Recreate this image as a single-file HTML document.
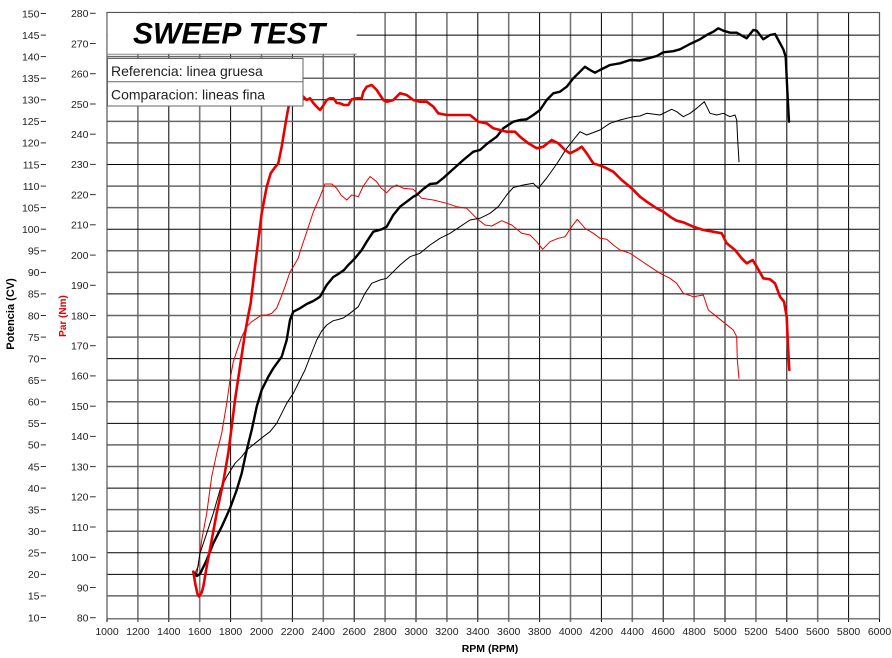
<!DOCTYPE html>
<html><head><meta charset="utf-8"><style>
html,body{margin:0;padding:0;background:#fff;}
svg{display:block;}
text{font-family:"Liberation Sans",Arial,sans-serif;}
</style></head><body>
<svg width="892" height="658" viewBox="0 0 892 658" xmlns="http://www.w3.org/2000/svg">
<rect width="892" height="658" fill="#fff"/>
<!-- vertical grid -->
<g stroke="#000" stroke-width="1">
<line x1="168.8" y1="12" x2="168.8" y2="622"/><line x1="230.6" y1="12" x2="230.6" y2="622"/><line x1="292.4" y1="12" x2="292.4" y2="622"/><line x1="354.2" y1="12" x2="354.2" y2="622"/><line x1="416" y1="12" x2="416" y2="622"/><line x1="477.8" y1="12" x2="477.8" y2="622"/><line x1="539.6" y1="12" x2="539.6" y2="622"/><line x1="601.4" y1="12" x2="601.4" y2="622"/><line x1="663.2" y1="12" x2="663.2" y2="622"/><line x1="725" y1="12" x2="725" y2="622"/><line x1="786.8" y1="12" x2="786.8" y2="622"/><line x1="848.6" y1="12" x2="848.6" y2="622"/>
<line x1="107" y1="619" x2="107" y2="622"/>
</g>
<g stroke="#777" stroke-width="1.6">
<line x1="137.9" y1="12" x2="137.9" y2="622"/><line x1="199.7" y1="12" x2="199.7" y2="622"/><line x1="261.5" y1="12" x2="261.5" y2="622"/><line x1="323.3" y1="12" x2="323.3" y2="622"/><line x1="385.1" y1="12" x2="385.1" y2="622"/><line x1="446.9" y1="12" x2="446.9" y2="622"/><line x1="508.7" y1="12" x2="508.7" y2="622"/><line x1="570.5" y1="12" x2="570.5" y2="622"/><line x1="632.3" y1="12" x2="632.3" y2="622"/><line x1="694.1" y1="12" x2="694.1" y2="622"/><line x1="755.9" y1="12" x2="755.9" y2="622"/><line x1="817.7" y1="12" x2="817.7" y2="622"/>
</g>
<!-- horizontal grid -->
<g stroke="#000" stroke-width="1">
<line x1="107" y1="35.07" x2="879.5" y2="35.07"/><line x1="107" y1="99.79" x2="879.5" y2="99.79"/><line x1="107" y1="164.5" x2="879.5" y2="164.5"/><line x1="107" y1="229.21" x2="879.5" y2="229.21"/><line x1="107" y1="293.93" x2="879.5" y2="293.93"/><line x1="107" y1="358.64" x2="879.5" y2="358.64"/><line x1="107" y1="423.36" x2="879.5" y2="423.36"/><line x1="107" y1="488.07" x2="879.5" y2="488.07"/><line x1="107" y1="552.79" x2="879.5" y2="552.79"/><line x1="107" y1="574.36" x2="879.5" y2="574.36"/>
</g>
<g stroke="#666" stroke-width="1.5">
<line x1="107" y1="56.64" x2="879.5" y2="56.64"/><line x1="107" y1="78.21" x2="879.5" y2="78.21"/><line x1="107" y1="121.36" x2="879.5" y2="121.36"/><line x1="107" y1="142.93" x2="879.5" y2="142.93"/><line x1="107" y1="186.07" x2="879.5" y2="186.07"/><line x1="107" y1="207.64" x2="879.5" y2="207.64"/><line x1="107" y1="250.79" x2="879.5" y2="250.79"/><line x1="107" y1="272.36" x2="879.5" y2="272.36"/><line x1="107" y1="315.5" x2="879.5" y2="315.5"/><line x1="107" y1="337.07" x2="879.5" y2="337.07"/><line x1="107" y1="380.21" x2="879.5" y2="380.21"/><line x1="107" y1="401.79" x2="879.5" y2="401.79"/><line x1="107" y1="444.93" x2="879.5" y2="444.93"/><line x1="107" y1="466.5" x2="879.5" y2="466.5"/><line x1="107" y1="509.64" x2="879.5" y2="509.64"/><line x1="107" y1="531.21" x2="879.5" y2="531.21"/><line x1="107" y1="595.93" x2="879.5" y2="595.93"/>
</g>
<!-- border -->
<rect x="107" y="12.5" width="772.5" height="606.3" fill="none" stroke="#555" stroke-width="1.2"/>
<line x1="879.5" y1="619" x2="879.5" y2="622" stroke="#000"/>

<!-- curves -->
<g fill="none" stroke-linejoin="round" stroke-linecap="round">
<polyline stroke="#e60000" stroke-width="1" points="195,573 198.3,566 201.7,540 206.7,513.3 211.7,476.7 216.7,453.3 221.7,433.3 226.7,403.3 230,380 233.3,361.7 238.3,346.7 241.7,336.7 246.7,326.7 251.7,321.7 256.7,318.3 261.7,315 266.7,315 271.7,313.3 276.7,308 280,300 285,286.7 290,272 293.3,266.7 298.3,258 300,252 306.7,232 313.3,212 320,196.7 325,184 331.7,184 336.7,188.3 341,195 346.7,200 351.7,195 356,196 358.3,196.7 363.3,186 370,176.5 376.7,181.7 381,188 386.7,192.7 391,188 396.7,185 403.3,188.3 413.3,189.3 421.7,198.3 433.3,200 446.7,203.3 456.7,206.7 466.7,208.3 476.7,218.3 485,225 491.7,226 501.7,220.7 511.7,225 521.7,233.3 530,235 536.7,241.7 542.7,249.3 550,241.7 558.3,238.3 565,236.7 571.7,226.7 577.3,219.3 585,228.3 593.3,233.3 600,238.3 606.7,239.3 613.3,245 620,250 630,253.3 640,260 650,266.7 660,273.3 670,278.3 676.7,283.3 683.3,293.3 693.3,296.7 703.3,295 708.3,310 716.7,316.7 725,323.3 733.3,330 736.7,336.7 737.3,360 739,378.3"/>
<polyline stroke="#000" stroke-width="1" points="193.3,571.7 196.7,574 200,553.3 206.7,533.3 213.3,513.3 220,490 226.7,476.7 235,463.3 241.7,456.7 246.7,450 255,443.3 263.3,436.7 270,431.7 276.7,423.3 281.7,413.3 286.7,403.3 293.3,393.3 300,380 305,370 310,357 316.7,340 321.7,331 326.7,325 333.3,320.7 338.3,319.5 343.3,318 350,313.3 358.3,306.7 365,293.3 371.7,283.3 380,280 386.7,278.3 393.3,271.7 400,265 410,256.7 420,253.3 430,245 440,238.3 450,233.3 460,226.7 470,220 480,218.3 490,213.3 498.3,206.7 506.7,195 513.3,187.5 523.3,185 533.3,183.3 538.3,188.3 546.7,178 556.7,164 566.7,148.3 573.3,140 580,131.7 586.7,135 600,130 610,123.3 620,120 633.3,116.7 640,116 646.7,113.3 660,115 671.7,109.3 676.7,111.7 683.3,116.7 690,113.3 696.7,108.3 704.3,101.7 710,113.3 716.7,115 723.3,113.3 730,116.7 735,115 736.7,120 737.7,140 739,161.7"/>
<polyline stroke="#000" stroke-width="2.4" points="193.3,571.7 196.7,576 200,574 206.7,560 213.3,543.3 221.7,526.7 230,508.3 236.7,490 241.7,473.3 246.7,450 251.7,430 256.7,406.7 261.7,390 268.3,376.7 273.3,368.3 281.7,356.7 286.7,340 290,320 293.3,311.7 300,308.3 306.7,304 313.3,301 320,296.7 326.7,285 333.3,277 338.3,274 344,270 348.3,265 355,258.3 361.7,250 366.7,241.7 373.3,231.7 381.7,229.3 386.7,226.7 393.3,215 400,206.7 406.7,201.7 413.3,196.7 416.7,195 423.3,189 430,184 436.7,183.3 443.3,178 453.3,169 463.3,160 473.3,151.7 480,150 486.7,144 496.7,136.7 503.3,128.3 513.3,121.7 520,120 526.7,119.3 533.3,115 540,110 546.7,100 553.3,93.3 560,91.7 566.7,86.7 573.3,78.3 580,71.7 585,66.7 590,70 595,72.7 600,70 610,65 620,63.3 630,60 640,60.5 648.3,58.3 656.7,56 663.3,52.3 673.3,51.2 680,49.3 690,44 700,39.3 706.7,35 713.3,31.7 718.3,28.3 723.3,30.7 730,32.7 736.7,32.7 746.7,38.3 753.3,30 756.7,30.7 763.3,39.3 770,35 775,34 778.3,40 783.3,49.3 785.7,56.7 787.3,90 789,121.7"/>
<polyline stroke="#e60000" stroke-width="2.6" points="193.3,571.7 195.5,585 197.5,594 199,596.5 201.5,593 203.3,586.7 206.7,566.7 211.7,540 216.7,513 223.3,481.7 228.3,453 231.7,426.7 235,400 240,366.7 245,333.3 248.3,315 250.7,303 255,266.7 261.7,213.3 266.7,186.7 270.7,173.3 275,167.3 278.3,163.3 281.7,146.7 285,126.7 287.3,113.3 290,100 293,96 300,96 303.3,96.7 306.7,100 310,98.3 313.3,103 316,106 320,110 323,106 326.7,100 330,98.3 333.3,98.3 336.7,103 340,103.3 344,105 348.3,105 351.7,99.3 356.7,98.3 361.7,98.3 363.3,92 366.7,86.7 371.7,85 376.7,90 380,95 383.3,100 386.7,101.7 390,101 393.3,100 395,98.3 398.3,95 400,93.3 406.7,95 413.3,100 420,101.7 426.7,101.7 433.3,106.7 438.3,113.3 446.7,115 453.3,115 463.3,115 470,115 478.3,121.7 486.7,123.3 493.3,128.3 500,130 506.7,131.7 515,131.7 520,136.7 528.3,143.3 536.7,148.3 543.3,146.7 551.7,140 558.3,143.3 565,150 570,153.3 576.7,150 581.7,146.7 586.7,153.3 593.3,163.3 603.3,166.7 613.3,171.7 621.7,180 631.7,188.3 640,196.7 646.7,201.7 656.7,208.3 663.3,211.7 670,216.7 676.7,220.7 683.3,222.3 693.3,226.7 703.3,230 713.3,231.7 721.7,233.3 726.7,243.3 735,250 741.7,258.3 746.7,263.3 752.7,260 756.7,266.7 763.3,278.3 770,279.3 775,283.3 780,296.7 784,301.7 786.7,316.7 787.7,340 789.3,370"/>
</g>

<!-- title box -->
<rect x="107.6" y="13.2" width="249" height="40.5" fill="#fff"/>
<line x1="107" y1="54.3" x2="356.6" y2="54.3" stroke="#888" stroke-width="1"/>
<text x="133" y="43.3" font-size="30" font-weight="bold" font-style="italic" fill="#000">SWEEP TEST</text>

<!-- legend -->
<rect x="107.5" y="58.5" width="195.5" height="47.5" fill="#fff" stroke="#666" stroke-width="1"/>
<line x1="107.5" y1="81.7" x2="303" y2="81.7" stroke="#666" stroke-width="1"/>
<text x="111" y="76" font-size="14" fill="#222">Referencia: linea gruesa</text>
<text x="111" y="99.5" font-size="14" fill="#222">Comparacion: lineas fina</text>

<!-- CV labels -->
<g font-size="10.5" fill="#222" text-anchor="end">
<text x="39.5" y="17.3">150</text><text x="39.5" y="38.9">145</text><text x="39.5" y="60.4">140</text><text x="39.5" y="82">135</text><text x="39.5" y="103.6">130</text><text x="39.5" y="125.2">125</text><text x="39.5" y="146.7">120</text><text x="39.5" y="168.3">115</text><text x="39.5" y="189.9">110</text><text x="39.5" y="211.4">105</text><text x="39.5" y="233">100</text><text x="39.5" y="254.6">95</text><text x="39.5" y="276.2">90</text><text x="39.5" y="297.7">85</text><text x="39.5" y="319.3">80</text><text x="39.5" y="340.9">75</text><text x="39.5" y="362.4">70</text><text x="39.5" y="384">65</text><text x="39.5" y="405.6">60</text><text x="39.5" y="427.2">55</text><text x="39.5" y="448.7">50</text><text x="39.5" y="470.3">45</text><text x="39.5" y="491.9">40</text><text x="39.5" y="513.4">35</text><text x="39.5" y="535">30</text><text x="39.5" y="556.6">25</text><text x="39.5" y="578.2">20</text><text x="39.5" y="599.7">15</text><text x="39.5" y="621.3">10</text>
</g>
<g stroke="#333" stroke-width="1">
<line x1="40.7" y1="13.5" x2="46" y2="13.5"/><line x1="40.7" y1="35.1" x2="46" y2="35.1"/><line x1="40.7" y1="56.6" x2="46" y2="56.6"/><line x1="40.7" y1="78.2" x2="46" y2="78.2"/><line x1="40.7" y1="99.8" x2="46" y2="99.8"/><line x1="40.7" y1="121.4" x2="46" y2="121.4"/><line x1="40.7" y1="142.9" x2="46" y2="142.9"/><line x1="40.7" y1="164.5" x2="46" y2="164.5"/><line x1="40.7" y1="186.1" x2="46" y2="186.1"/><line x1="40.7" y1="207.6" x2="46" y2="207.6"/><line x1="40.7" y1="229.2" x2="46" y2="229.2"/><line x1="40.7" y1="250.8" x2="46" y2="250.8"/><line x1="40.7" y1="272.4" x2="46" y2="272.4"/><line x1="40.7" y1="293.9" x2="46" y2="293.9"/><line x1="40.7" y1="315.5" x2="46" y2="315.5"/><line x1="40.7" y1="337.1" x2="46" y2="337.1"/><line x1="40.7" y1="358.6" x2="46" y2="358.6"/><line x1="40.7" y1="380.2" x2="46" y2="380.2"/><line x1="40.7" y1="401.8" x2="46" y2="401.8"/><line x1="40.7" y1="423.4" x2="46" y2="423.4"/><line x1="40.7" y1="444.9" x2="46" y2="444.9"/><line x1="40.7" y1="466.5" x2="46" y2="466.5"/><line x1="40.7" y1="488.1" x2="46" y2="488.1"/><line x1="40.7" y1="509.6" x2="46" y2="509.6"/><line x1="40.7" y1="531.2" x2="46" y2="531.2"/><line x1="40.7" y1="552.8" x2="46" y2="552.8"/><line x1="40.7" y1="574.4" x2="46" y2="574.4"/><line x1="40.7" y1="595.9" x2="46" y2="595.9"/><line x1="40.7" y1="617.5" x2="46" y2="617.5"/>
</g>
<!-- Nm labels -->
<g font-size="10.5" fill="#222" text-anchor="end">
<text x="88.5" y="17.1">280</text><text x="88.5" y="47.3">270</text><text x="88.5" y="77.5">260</text><text x="88.5" y="107.8">250</text><text x="88.5" y="138">240</text><text x="88.5" y="168.2">230</text><text x="88.5" y="198.4">220</text><text x="88.5" y="228.6">210</text><text x="88.5" y="258.9">200</text><text x="88.5" y="289.1">190</text><text x="88.5" y="319.3">180</text><text x="88.5" y="349.5">170</text><text x="88.5" y="379.7">160</text><text x="88.5" y="410">150</text><text x="88.5" y="440.2">140</text><text x="88.5" y="470.4">130</text><text x="88.5" y="500.6">120</text><text x="88.5" y="530.8">110</text><text x="88.5" y="561.1">100</text><text x="88.5" y="591.3">90</text><text x="88.5" y="621.5">80</text>
</g>
<g stroke="#333" stroke-width="1">
<line x1="90" y1="13.3" x2="95.7" y2="13.3"/><line x1="90" y1="43.5" x2="95.7" y2="43.5"/><line x1="90" y1="73.7" x2="95.7" y2="73.7"/><line x1="90" y1="104" x2="95.7" y2="104"/><line x1="90" y1="134.2" x2="95.7" y2="134.2"/><line x1="90" y1="164.4" x2="95.7" y2="164.4"/><line x1="90" y1="194.6" x2="95.7" y2="194.6"/><line x1="90" y1="224.8" x2="95.7" y2="224.8"/><line x1="90" y1="255.1" x2="95.7" y2="255.1"/><line x1="90" y1="285.3" x2="95.7" y2="285.3"/><line x1="90" y1="315.5" x2="95.7" y2="315.5"/><line x1="90" y1="345.7" x2="95.7" y2="345.7"/><line x1="90" y1="375.9" x2="95.7" y2="375.9"/><line x1="90" y1="406.2" x2="95.7" y2="406.2"/><line x1="90" y1="436.4" x2="95.7" y2="436.4"/><line x1="90" y1="466.6" x2="95.7" y2="466.6"/><line x1="90" y1="496.8" x2="95.7" y2="496.8"/><line x1="90" y1="527" x2="95.7" y2="527"/><line x1="90" y1="557.3" x2="95.7" y2="557.3"/><line x1="90" y1="587.5" x2="95.7" y2="587.5"/><line x1="90" y1="617.7" x2="95.7" y2="617.7"/>
</g>
<!-- X labels -->
<g font-size="10.5" fill="#222" text-anchor="middle">
<text x="107" y="635">1000</text><text x="137.9" y="635">1200</text><text x="168.8" y="635">1400</text><text x="199.7" y="635">1600</text><text x="230.6" y="635">1800</text><text x="261.5" y="635">2000</text><text x="292.4" y="635">2200</text><text x="323.3" y="635">2400</text><text x="354.2" y="635">2600</text><text x="385.1" y="635">2800</text><text x="416" y="635">3000</text><text x="446.9" y="635">3200</text><text x="477.8" y="635">3400</text><text x="508.7" y="635">3600</text><text x="539.6" y="635">3800</text><text x="570.5" y="635">4000</text><text x="601.4" y="635">4200</text><text x="632.3" y="635">4400</text><text x="663.2" y="635">4600</text><text x="694.1" y="635">4800</text><text x="725" y="635">5000</text><text x="755.9" y="635">5200</text><text x="786.8" y="635">5400</text><text x="817.7" y="635">5600</text><text x="848.6" y="635">5800</text><text x="879.5" y="635">6000</text>
</g>
<!-- axis titles -->
<text x="490" y="652" font-size="10.5" font-weight="bold" fill="#000" text-anchor="middle">RPM (RPM)</text>
<text transform="translate(14,314) rotate(-90)" font-size="11" font-weight="bold" fill="#000" text-anchor="middle">Potencia (CV)</text>
<text transform="translate(66,316) rotate(-90)" font-size="10" font-weight="bold" fill="#e60000" text-anchor="middle">Par (Nm)</text>
</svg>
</body></html>
